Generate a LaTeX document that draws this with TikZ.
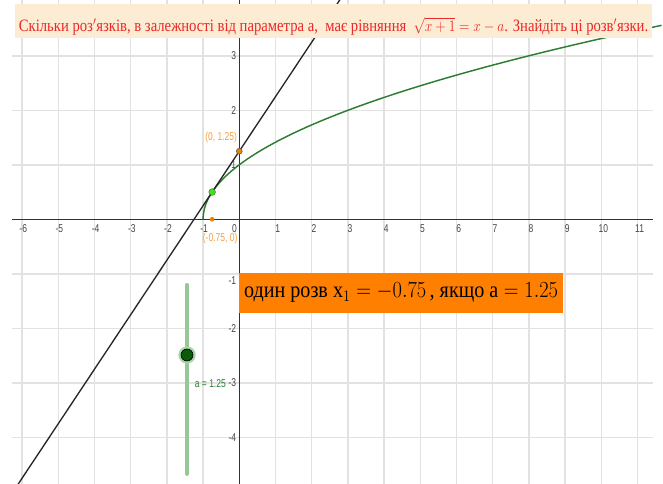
\documentclass[tikz,border=0pt]{standalone}
\usepackage{fontspec}
\setmainfont{Liberation Serif}
\newfontfamily\ticksf{Liberation Sans}
\usepackage{graphicx}
\definecolor{gridgray}{RGB}{226,226,226}
\definecolor{axisgray}{RGB}{50,50,50}
\definecolor{tickgray}{RGB}{70,70,70}
\definecolor{curvegreen}{RGB}{46,125,50}
\definecolor{slidergreen}{RGB}{150,200,150}
\definecolor{dotgreen}{RGB}{10,90,10}
\definecolor{ptgreen}{RGB}{60,230,30}
\definecolor{ptorange}{RGB}{230,130,0}
\definecolor{lblorange}{RGB}{245,160,60}
\definecolor{boxorange}{RGB}{255,127,0}
\definecolor{peach}{RGB}{253,236,212}
\definecolor{titlered}{RGB}{235,40,40}
\newcommand\sqz[1]{\scalebox{0.75}[1]{#1}}
\begin{document}
\begin{tikzpicture}[x=27.15pt,y=40.875pt,
  gridline/.style={draw=gridgray,line width=1.1pt},
  axisline/.style={draw=axisgray,line width=0.9pt},
  ticklbl/.style={text=tickgray,font=\ticksf\fontsize{8.5}{9}\selectfont,inner sep=0pt},
  ptlbl/.style={text=lblorange,font=\ticksf\fontsize{8.5}{9}\selectfont,inner sep=0pt},
  orangept/.style={circle,fill=ptorange,draw=black!70,line width=0.3pt,inner sep=0pt,minimum size=4.5pt}]
\useasboundingbox (-6.611,-4.857) rectangle (11.705,4.024);
\fill[white] (-6.611,-4.857) rectangle (11.705,4.024);
\begin{scope}
\clip (-6.611,-4.857) rectangle (11.705,4.024);
% grid
\foreach \i in {-6,...,11} \draw[gridline] (\i,-4.857) -- (\i,4.024);
\foreach \j in {-4,...,3} \draw[gridline] (-6.28,\j) -- (11.42,\j);
% axes
\draw[axisline] (-6.28,0) -- (11.42,0);
\draw[axisline] (0,-4.857) -- (0,4.024);
% tick labels
\foreach \i in {-6,...,-1} \node[ticklbl] at (\i+0.03,-0.17) {\sqz{\i}};
\foreach \i in {1,...,11} \node[ticklbl] at (\i+0.06,-0.17) {\sqz{\i}};
\node[ticklbl] at (-0.13,-0.17) {\sqz{0}};
\foreach \j in {1,2,3,-2,-3,-4} \node[ticklbl,anchor=east] at (-0.08,\j) {\sqz{\j}};
\node[ticklbl,anchor=east] at (-0.08,-1.12) {\sqz{-1}};
% curve and line
\draw[curvegreen,line width=1.1pt] plot[domain=0:3.56,samples=120,smooth] ({\x*\x-1},{\x});
\draw[black!85,line width=1pt] (-6.3,-5.05) -- (2.85,4.1);
% slider
\draw[slidergreen,line width=3pt,line cap=round] (-1.445,-1.205) -- (-1.445,-4.673);
\fill[slidergreen!80] (-1.445,-2.49) circle (6.5pt);
\node[circle,fill=dotgreen,draw=black,line width=0.5pt,inner sep=0pt,minimum size=9pt] (sdot) at (-1.445,-2.49) {};
\node[text=curvegreen,font=\ticksf\fontsize{8.5}{9}\selectfont,inner sep=0pt] (slbl) at (-0.8,-3.02) {\sqz{a = 1.25}};
% points
\node[orangept] (p0) at (0,1.25) {};
\node[circle,fill=ptorange,inner sep=0pt,minimum size=3.5pt] (px) at (-0.75,0) {};
\node[circle,fill=ptgreen,draw=black!70,line width=0.3pt,inner sep=0pt,minimum size=5pt] (pt) at (-0.75,0.5) {};
\node[ptlbl] (l0) at (-0.5,1.508) {\sqz{(0, 1.25)}};
\node[ptlbl] (lx) at (-0.53,-0.36) {\sqz{(-0.75, 0)}};
% orange answer box
\node[fill=boxorange,minimum width=242.8pt,minimum height=30pt,inner sep=0pt] (ans) at (4.47,-1.347)
  {\resizebox{235.5pt}{\height}{\fontsize{17}{18}\selectfont один розв $\mathrm{x}_1=-0.75$\,, якщо $\mathrm{a}=1.25$}};
% title
\node[fill=peach,minimum width=477.75pt,minimum height=25.5pt,inner sep=0pt] (title) at (2.605,3.638) {};
\node[inner sep=0pt,anchor=base] (ttext) at (2.605,3.45)
  {\resizebox{472pt}{\height}{\color{titlered}\fontsize{13}{14}\selectfont Скільки роз$'$язків, в залежності від параметра а,\ \ має рівняння\ \ $\sqrt{x+1}=x-a$. Знайдіть ці розв$'$язки.}};
\end{scope}
\end{tikzpicture}
\end{document}
